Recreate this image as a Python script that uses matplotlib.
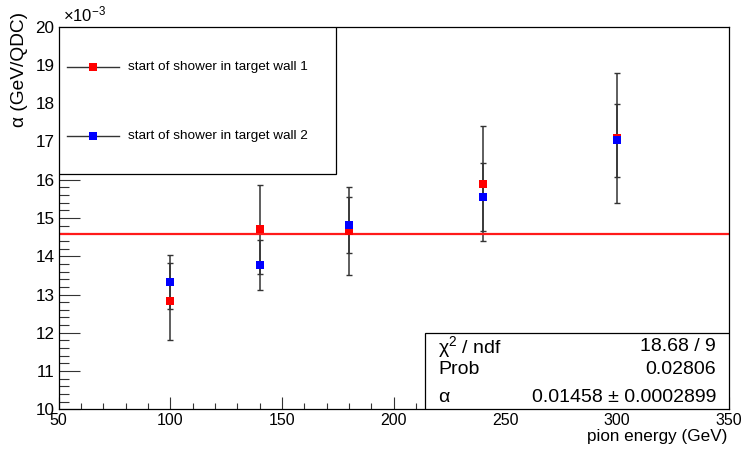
import matplotlib
matplotlib.use("Agg")
import matplotlib.pyplot as plt
from matplotlib.patches import Rectangle
from matplotlib.ticker import MultipleLocator

plt.rcParams['font.family'] = ['Liberation Sans', 'DejaVu Sans']
plt.rcParams['mathtext.fontset'] = 'custom'
plt.rcParams['mathtext.rm'] = 'Liberation Sans'
plt.rcParams['mathtext.it'] = 'Liberation Sans:italic'

# pion energy (GeV)
energy = [100, 140, 180, 240, 300]

# alpha in units of 1e-3 GeV/QDC
wall1_alpha = [12.82, 14.70, 14.66, 15.90, 17.09]
wall1_err = [1.01, 1.155, 1.155, 1.51, 1.69]
wall2_alpha = [13.32, 13.77, 14.81, 15.54, 17.03]
wall2_err = [0.71, 0.645, 0.73, 0.89, 0.95]

labels = ['start of shower in target wall 1', 'start of shower in target wall 2']
colors = ['#ff0000', '#0000ff']

fit_alpha = 0.01458
fit_alpha_err = 0.0002899
chi2 = 18.68
ndf = 9
prob = 0.02806

fig = plt.figure(figsize=(7.41, 4.5), dpi=100)
ax = fig.add_axes([0.0792, 0.0904, 0.9042, 0.8503])

series = [(wall1_alpha, wall1_err), (wall2_alpha, wall2_err)]
for vals, errs in series:
    ax.errorbar(energy, vals, yerr=errs, fmt='none', ecolor='#333333',
                elinewidth=1.1, capsize=2.3, capthick=1.0, zorder=2)

ax.axhline(fit_alpha * 1e3, color='#ff1a1a', lw=1.6, zorder=2.5)

for (vals, errs), c in zip(series, colors):
    ax.plot(energy, vals, 's', color=c, markersize=5.8, markeredgewidth=0, zorder=3)

ax.set_xlim(50, 350)
ax.set_ylim(10, 20)
ax.xaxis.set_major_locator(MultipleLocator(50))
ax.xaxis.set_minor_locator(MultipleLocator(10))
ax.yaxis.set_major_locator(MultipleLocator(1))
ax.yaxis.set_minor_locator(MultipleLocator(0.2))
ax.tick_params(axis='y', which='both', direction='in', left=True, right=False,
               width=0.8, color='#333333', labelsize=12.3, pad=3)
ax.tick_params(axis='y', which='major', length=15)
ax.tick_params(axis='y', which='minor', length=7)
ax.tick_params(axis='x', which='both', direction='in', bottom=True, top=False,
               width=0.8, color='#333333', labelsize=11.5, pad=2.5)
ax.tick_params(axis='x', which='major', length=8.5)
ax.tick_params(axis='x', which='minor', length=4.3)
for s in ax.spines.values():
    s.set_linewidth(0.9)

ax.text(0.006, 1.006, r'$\times$10$^{-3}$', transform=ax.transAxes,
        ha='left', va='bottom', fontsize=12)
fig.text(20 / 741, 1 - 12 / 450, r'α (GeV/QDC)', rotation=90,
         ha='center', va='top', fontsize=13.8)
fig.text(727 / 741, 1 - 437 / 450, 'pion energy (GeV)', ha='right',
         va='center', fontsize=12.3)

# legend box
ax.add_patch(Rectangle((0, 1 - 147.3 / 382.6), 277.3 / 670, 147.3 / 382.6,
                       transform=ax.transAxes, facecolor='white',
                       edgecolor='black', lw=0.9, zorder=4))
for i, (lab, c) in enumerate(zip(labels, colors)):
    yy = 1 - (40 + 69 * i) / 382.6
    ax.plot([8.3 / 670, 60.3 / 670], [yy, yy], color='#333333', lw=1.0,
            transform=ax.transAxes, zorder=5)
    ax.plot([34.3 / 670], [yy], 's', color=c, markersize=5.8,
            markeredgewidth=0, transform=ax.transAxes, zorder=6)
    ax.text(69.3 / 670, yy, lab, transform=ax.transAxes, ha='left',
            va='center', fontsize=9.7, zorder=6)

# fit statistics box
ax.add_patch(Rectangle((0.547, 0), 0.453, 0.1986, transform=ax.transAxes,
                       facecolor='white', edgecolor='black', lw=0.9, zorder=4))
stats = [('χ$^{2}$ / ndf', '%.2f / %d' % (chi2, ndf)),
         ('Prob', '%.5f' % prob),
         ('α', '%.5f ± %.7f' % (fit_alpha, fit_alpha_err))]
rows_y = [0.163, 0.103, 0.032]
for (name, val), yy in zip(stats, rows_y):
    ax.text(0.566, yy, name, transform=ax.transAxes, ha='left', va='center',
            fontsize=14, zorder=5)
    ax.text(0.981, yy, val, transform=ax.transAxes, ha='right', va='center',
            fontsize=14, zorder=5)

fig.savefig('out.png', dpi=100)
